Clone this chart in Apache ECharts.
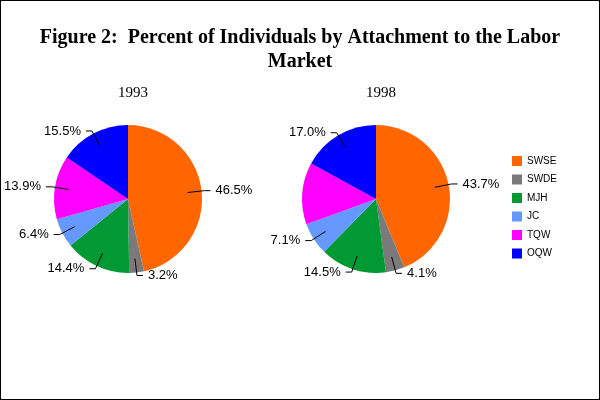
<!DOCTYPE html>
<html>
<head>
<meta charset="utf-8">
<script src="https://cdn.jsdelivr.net/npm/echarts@6/dist/echarts.min.js"></script>
<style>
html,body{margin:0;padding:0;background:#fff;}
#c{width:598px;height:398px;border:1px solid #000;}
</style>
</head>
<body>
<div id="c"></div>
<script>
var categories = ['SWSE', 'SWDE', 'MJH', 'JC', 'TQW', 'OQW'];
var values1993 = [46.5, 3.2, 14.4, 6.4, 13.9, 15.5];
var values1998 = [43.7, 4.1, 14.5, 7.1, 13.5, 17.0];
var years = ['1993', '1998'];
var colors = ['#FF6600', '#7A7A7A', '#009933', '#6699FF', '#FF00FF', '#0000FF'];

function mk(vals) {
  return categories.map(function (c, i) { return { name: c, value: vals[i], itemStyle: { color: colors[i] } }; });
}
function mkGhost(vals) {
  return categories.map(function (c, i) { return { name: c, value: vals[i] }; });
}
var centers = [[127, 198], [375, 198]];
var allVals = [values1993, values1998];
var series = [];
allVals.forEach(function (v, k) {
  series.push({
    type: 'pie', center: centers[k], radius: 74, startAngle: 90, clockwise: true, z: 2,
    data: mk(v), label: { show: false }, labelLine: { show: false }, silent: true,
    itemStyle: { borderWidth: 0 }, animation: false
  });
});
allVals.forEach(function (v, k) {
  series.push({
    type: 'pie', center: centers[k], radius: 60, startAngle: 90, clockwise: true, z: 5, zlevel: 1,
    data: mkGhost(v), silent: true, animation: false, legendHoverLink: false,
    itemStyle: { color: 'rgba(0,0,0,0)', borderWidth: 0 },
    label: {
      show: true, position: 'outside', overflow: 'none',
      formatter: function (p) { return p.value.toFixed(1) + '%'; },
      fontFamily: 'Liberation Sans', fontSize: 13, color: '#000', padding: [0, 0]
    },
    labelLine: { show: true, length: 17, length2: 6, smooth: false, lineStyle: { color: '#000', width: 1 } }
  });
});

var chart = echarts.init(document.getElementById('c'), null, { renderer: 'canvas' });
chart.setOption({
  backgroundColor: '#fff',
  animation: false,
  title: [
    { text: 'Figure 2:  Percent of Individuals by Attachment to the Labor\nMarket', left: 'center', top: 20,
      textStyle: { fontFamily: 'Liberation Serif', fontWeight: 'bold', fontSize: 20, lineHeight: 24, color: '#000' } },
    { text: years[0], left: 127, top: 80, textAlign: 'center',
      textStyle: { fontFamily: 'Liberation Serif', fontWeight: 'normal', fontSize: 15, color: '#000' } },
    { text: years[1], left: 375, top: 80, textAlign: 'center',
      textStyle: { fontFamily: 'Liberation Serif', fontWeight: 'normal', fontSize: 15, color: '#000' } }
  ],
  legend: {
    orient: 'vertical', left: 506, top: 150, itemWidth: 10, itemHeight: 10, itemGap: 8.5,
    icon: 'rect', selectedMode: false,
    textStyle: { fontFamily: 'Liberation Sans', fontSize: 10, color: '#000' },
    data: categories.map(function (c, i) { return { name: c, itemStyle: { color: colors[i] } }; })
  },
  series: series
});
</script>
</body>
</html>
